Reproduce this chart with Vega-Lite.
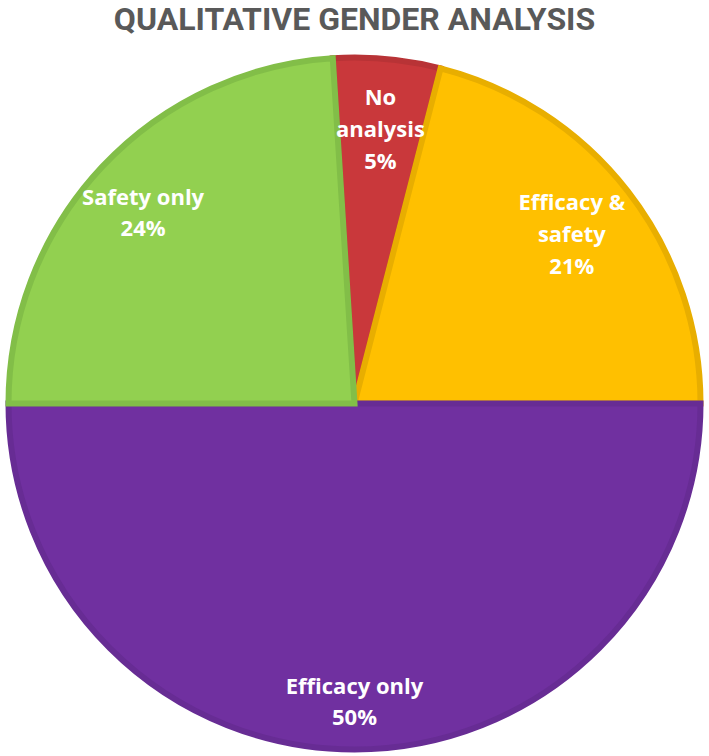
{
  "$schema": "https://vega.github.io/schema/vega-lite/v6.json",
  "width": 709,
  "height": 698,
  "autosize": "none",
  "padding": {"left": 0, "top": 54.5, "right": 0, "bottom": 3.5},
  "background": "white",
  "title": {
    "text": "QUALITATIVE GENDER ANALYSIS",
    "anchor": "middle",
    "font": "Roboto",
    "fontSize": 32,
    "fontWeight": "bold",
    "color": "#595959",
    "offset": 9
  },
  "data": {
    "values": [
      {"idx": 1, "category": "No analysis", "label": "No\nanalysis", "value": 5},
      {"idx": 2, "category": "Efficacy & safety", "label": "Efficacy &\nsafety", "value": 21},
      {"idx": 3, "category": "Efficacy only", "label": "Efficacy only", "value": 50},
      {"idx": 4, "category": "Safety only", "label": "Safety only", "value": 24}
    ]
  },
  "transform": [
    {"stack": "value", "groupby": [], "sort": [{"field": "idx", "order": "ascending"}], "as": ["v0", "v1"]},
    {"calculate": "(datum.v0 + datum.v1) / 2", "as": "mid"},
    {"calculate": "datum.label + '\\n' + datum.value + '%'", "as": "text"},
    {"calculate": "length(split(datum.text, '\\n'))", "as": "lines"}
  ],
  "layer": [
    {
      "mark": {"type": "arc", "outerRadius": 346, "strokeWidth": 6},
      "encoding": {
        "theta": {
          "field": "v0",
          "type": "quantitative",
          "scale": {"domain": [0, 100], "range": [-0.0628, 6.2204]}
        },
        "theta2": {"field": "v1"},
        "color": {
          "field": "category",
          "type": "nominal",
          "scale": {
            "domain": ["No analysis", "Efficacy & safety", "Efficacy only", "Safety only"],
            "range": ["#C9383B", "#FFC000", "#7030A0", "#92D050"]
          },
          "legend": null
        },
        "stroke": {
          "field": "category",
          "type": "nominal",
          "scale": {
            "domain": ["No analysis", "Efficacy & safety", "Efficacy only", "Safety only"],
            "range": ["#B83336", "#E8AE00", "#672C94", "#82BE48"]
          },
          "legend": null
        }
      }
    },
    {
      "transform": [{"filter": "datum.lines == 3"}],
      "mark": {
        "type": "text",
        "radius": 275,
        "dy": -32,
        "font": "Open Sans",
        "fontWeight": "bold",
        "fontSize": 22,
        "lineBreak": "\n",
        "lineHeight": 32,
        "color": "white"
      },
      "encoding": {
        "theta": {"field": "mid", "type": "quantitative"},
        "text": {"field": "text", "type": "nominal"}
      }
    },
    {
      "transform": [{"filter": "datum.lines == 2"}],
      "mark": {
        "type": "text",
        "radius": 290,
        "dy": -7,
        "font": "Open Sans",
        "fontWeight": "bold",
        "fontSize": 22,
        "lineBreak": "\n",
        "lineHeight": 31,
        "color": "white"
      },
      "encoding": {
        "theta": {"field": "mid", "type": "quantitative"},
        "text": {"field": "text", "type": "nominal"}
      }
    }
  ]
}
